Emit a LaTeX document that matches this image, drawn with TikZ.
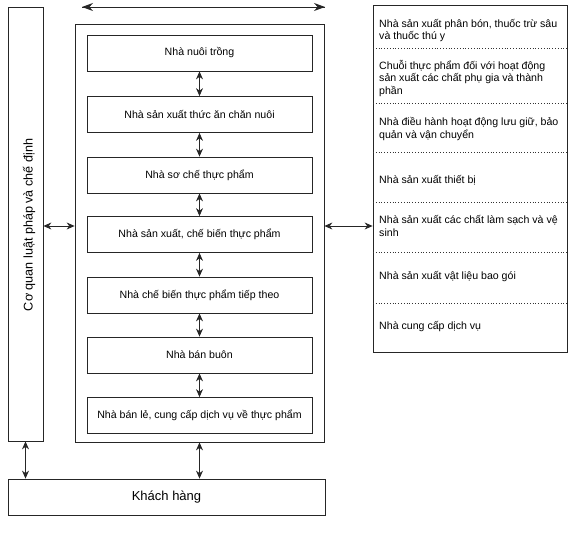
\documentclass[tikz,border=0pt]{standalone}
\usepackage{fontspec}
\setmainfont{Liberation Sans}
\usetikzlibrary{arrows.meta}
\begin{document}
\begin{tikzpicture}[x=1pt,y=-1pt,
  frame/.style={draw=black!85, line width=0.8pt},
  chainbox/.style={frame, minimum width=225pt, minimum height=36pt, font=\fontsize{10.6}{12}\selectfont, inner sep=0pt},
  sidetext/.style={anchor=west, align=left, font=\fontsize{10.6}{12.2}\selectfont, inner sep=0pt},
  divider/.style={draw=black!80, dotted, line width=0.8pt},
  link/.style={draw=black!85, line width=0.8pt, {Stealth[length=8pt,width=7pt]}-{Stealth[length=8pt,width=7pt]}},
  onearrow/.style={draw=black!85, line width=0.8pt, -{Stealth[length=11pt,width=8pt]}}]
\useasboundingbox (0,0) rectangle (576,535);
% left authority box
\node[frame, minimum width=35pt, minimum height=434pt, inner sep=0pt] (law) at (25.5,224) {};
\node[rotate=90, font=\fontsize{12.6}{14}\selectfont] (lawtxt) at (29,225) {Cơ quan luật pháp và chế định};
% middle big box
\node[frame, minimum width=249pt, minimum height=418pt, inner sep=0pt] (chain) at (199.5,233) {};
% inner boxes
\node[chainbox] (b1) at (199.5,53) {Nhà nuôi trồng};
\node[chainbox] (b2) at (199.5,114.5) {Nhà sản xuất thức ăn chăn nuôi};
\node[chainbox] (b3) at (199.5,175) {Nhà sơ chế thực phẩm};
\node[chainbox] (b4) at (199.5,234.5) {Nhà sản xuất, chế biến thực phẩm};
\node[chainbox] (b5) at (199.5,295) {Nhà chế biến thực phẩm tiếp theo};
\node[chainbox] (b6) at (199.5,355) {Nhà bán buôn};
\node[chainbox] (b7) at (199.5,415.5) {Nhà bán lẻ, cung cấp dịch vụ về thực phẩm};
\draw[link] (b1) -- (b2);
\draw[link] (b2) -- (b3);
\draw[link] (b3) -- (b4);
\draw[link] (b4) -- (b5);
\draw[link] (b5) -- (b6);
\draw[link] (b6) -- (b7);
% right box
\node[frame, minimum width=194pt, minimum height=347pt, inner sep=0pt] (side) at (470,178.5) {};
\coordinate (d1) at (373,48);
\coordinate (d2) at (373,103);
\coordinate (d3) at (373,152);
\coordinate (d4) at (373,202);
\coordinate (d5) at (373,252);
\coordinate (d6) at (373,303);
\foreach \d in {d1,d2,d3,d4,d5,d6} \draw[divider] (\d) -- ++(194,0);
\node[sidetext] (s1) at (379,30.5) {Nhà sản xuất phân bón, thuốc trừ sâu\\và thuốc thú y};
\node[sidetext] (s2) at (379,78.5) {Chuỗi thực phẩm đối với hoạt động\\sản xuất các chất phụ gia và thành\\phần};
\node[sidetext] (s3) at (379,129) {Nhà điều hành hoạt động lưu giữ, bảo\\quản và vận chuyển};
\node[sidetext] (s4) at (379,180) {Nhà sản xuất thiết bị};
\node[sidetext] (s5) at (379,226) {Nhà sản xuất các chất làm sạch và vệ\\sinh};
\node[sidetext] (s6) at (379,277) {Nhà sản xuất vật liệu bao gói};
\node[sidetext] (s7) at (379,327) {Nhà cung cấp dịch vụ};
% customer box
\node[frame, minimum width=317pt, minimum height=36pt, inner sep=0pt, font=\fontsize{13}{15}\selectfont] (cust) at (166.5,497) {Khách hàng};
% connectors
\coordinate (ta) at (82,7);
\coordinate (tb) at (325,7);
\draw[onearrow] (tb) -- (ta);
\draw[onearrow] (ta) -- (tb);
\draw[link] (law.east |- 0,226) -- (chain.west |- 0,226);
\draw[link] (chain.east |- 0,226) -- (side.west |- 0,226);
\draw[link] (law.south) -- (law.south |- cust.north);
\draw[link] (chain.south) -- (chain.south |- cust.north);
\end{tikzpicture}
\end{document}
